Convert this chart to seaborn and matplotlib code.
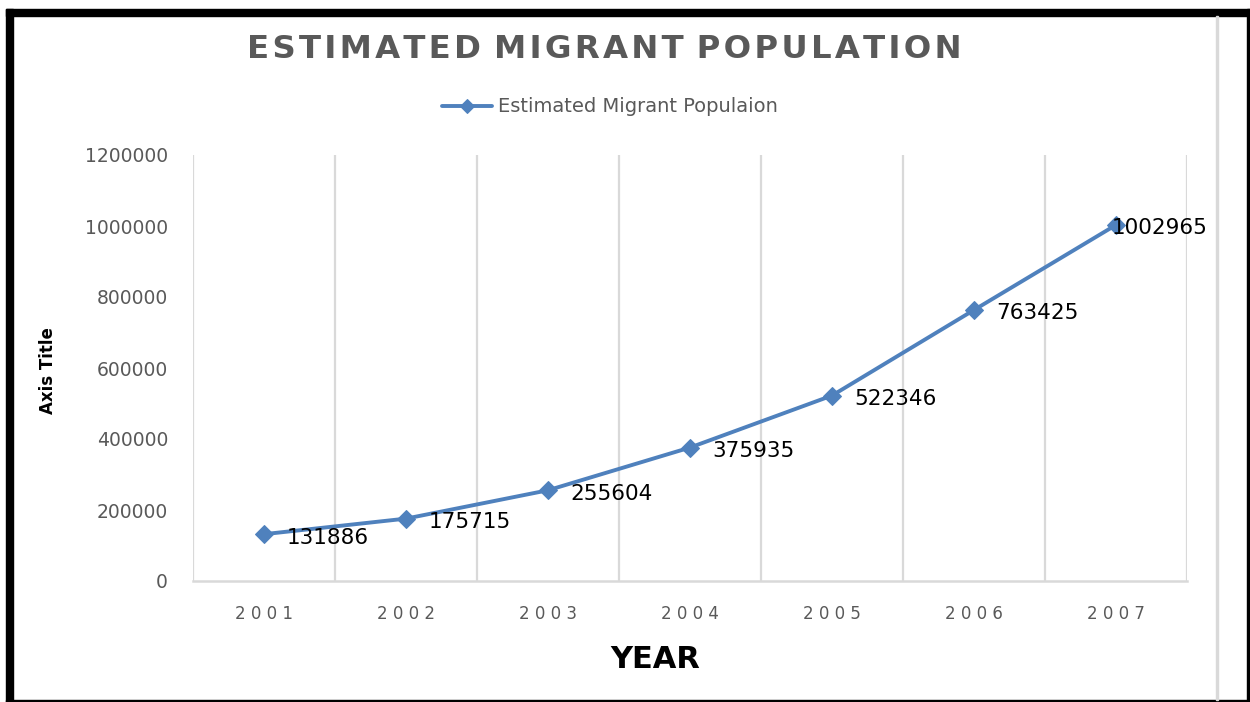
import matplotlib
matplotlib.use("Agg")
import matplotlib.pyplot as plt
import seaborn as sns
import pandas as pd
from matplotlib.patches import Rectangle

years = ["2001", "2002", "2003", "2004", "2005", "2006", "2007"]
population = [131886, 175715, 255604, 375935, 522346, 763425, 1002965]
y_ticks = [0, 200000, 400000, 600000, 800000, 1000000, 1200000]
series_name = "Estimated Migrant Populaion"
title_text = "ESTIMATED MIGRANT POPULATION"

sns.set_theme(style="white")
plt.rcParams['font.family'] = ['DejaVu Sans']

W, H = 1250, 702
fig = plt.figure(figsize=(W / 100, H / 100), dpi=100)
fig.patch.set_facecolor("white")

ax = fig.add_axes([193 / W, (H - 581) / H, 994 / W, 426 / H])

df = pd.DataFrame({"Year": years, "Population": population})
BLUE = "#4F81BD"
GRAY = "#595959"
GRID = "#D9D9D9"

sns.lineplot(data=df, x="Year", y="Population", ax=ax, color=BLUE, lw=2.8,
             marker="D", markersize=9, markeredgecolor=BLUE, label=series_name,
             sort=False)

ax.set_xlim(-0.5, len(years) - 0.5)
ax.set_ylim(0, 1200000)
ax.set_yticks(y_ticks)
ax.set_yticklabels([str(t) for t in y_ticks], color=GRAY, fontsize=13.5)
ax.set_xticks(range(len(years)))
ax.set_xticklabels([" ".join(list(y)) for y in years], color=GRAY, fontsize=12)
ax.tick_params(axis="y", length=0, pad=18)
ax.tick_params(axis="x", length=0, pad=17)

ax.set_xticks([i - 0.5 for i in range(len(years) + 1)], minor=True)
ax.tick_params(axis="x", which="minor", length=0)
ax.grid(False)
ax.grid(which="minor", axis="x", color=GRID, lw=1.6)

for s in ["top", "right", "left"]:
    ax.spines[s].set_visible(False)
ax.spines["bottom"].set_color(GRID)
ax.spines["bottom"].set_linewidth(1.8)

for i, v in enumerate(population):
    dx = 16 if i < len(population) - 1 else -3
    ax.annotate(str(v), (i, v), xytext=(dx, -2.5), textcoords="offset points",
                ha="left", va="center", fontsize=15.5, color="black", zorder=5)

ax.set_xlabel("YEAR", fontsize=22, fontweight="bold", color="black")
ax.xaxis.set_label_coords((655 - 193) / 994, (581 - 660) / 426)
ax.xaxis.label.set_va("center")
ax.set_ylabel("Axis Title", fontsize=12, fontweight="bold", color="black")
ax.yaxis.set_label_coords((48 - 193) / 994, (581 - 371) / 426)
ax.yaxis.label.set_va("center")

leg = ax.legend(loc="center", bbox_to_anchor=(610 / W, 1 - 107 / H),
                bbox_transform=fig.transFigure, frameon=False, fontsize=14,
                handlelength=2.6, handletextpad=0.3, markerscale=0.8)
for t in leg.get_texts():
    t.set_color(GRAY)

fig.text(604 / W, 1 - 50 / H, "\u2009".join(title_text.split(" ")).replace("", "\u200a")[1:-1],
         ha="center", va="center", fontsize=23.3, fontweight="bold", color=GRAY)

# outer frame
def px_rect(x0, y0, x1, y1, color):
    fig.patches.append(Rectangle((x0 / W, 1 - y1 / H), (x1 - x0) / W, (y1 - y0) / H,
                                 transform=fig.transFigure, color=color, zorder=10))

px_rect(6, 9, 1250, 16, "black")
px_rect(6, 9, 13, 702, "black")
px_rect(1247, 9, 1250, 702, "black")
px_rect(6, 700, 1250, 702, "black")
px_rect(1216, 16, 1218, 700, GRID)

fig.savefig("out.png", dpi=100)
